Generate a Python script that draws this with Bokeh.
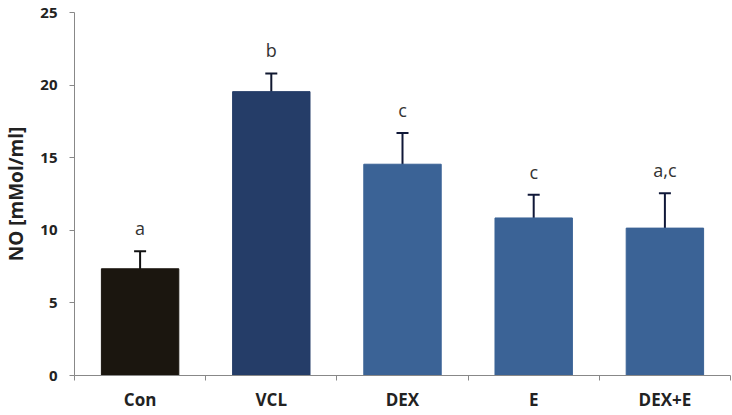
from bokeh.plotting import figure
from bokeh.models import ColumnDataSource, FixedTicker, Whisker, LabelSet, Range1d
from bokeh.core.properties import value
from bokeh.embed import file_html
from bokeh.resources import INLINE

categories = ["Con", "VCL", "DEX", "E", "DEX+E"]
values = [7.35, 19.55, 14.55, 10.85, 10.15]
errors = [1.2, 1.25, 2.15, 1.6, 2.4]
letters = ["a", "b", "c", "c", "a,c"]
colors = ["#1b160f", "#253d68", "#3b6396", "#3b6396", "#3b6396"]
err_colors = ["#111111", "#101830", "#101838", "#101838", "#101838"]
y_ticks = [0, 5, 10, 15, 20, 25]

xs = [i + 0.5 for i in range(len(categories))]
src = ColumnDataSource(dict(
    x=xs, top=values, color=colors, ecolor=err_colors,
    upper=[v + e for v, e in zip(values, errors)],
    lower=[v - e for v, e in zip(values, errors)],
    letter=letters,
))

p = figure(output_backend="svg", toolbar_location=None,
           frame_width=656, frame_height=363,
           x_range=Range1d(0, len(categories)), y_range=Range1d(0, 25),
           min_border_left=72, min_border_right=4, min_border_top=12, min_border_bottom=40,
           background_fill_color="white", border_fill_color="white")
p.outline_line_color = None
p.grid.grid_line_color = None

p.vbar(x="x", top="top", width=0.59, bottom=0, fill_color="color", line_color="color", source=src)

w = Whisker(base="x", upper="upper", lower="lower", source=src,
            line_color="ecolor", line_width=2)
w.upper_head.size = 12
w.lower_head.size = 12
w.upper_head.line_color = "ecolor"
w.lower_head.line_color = "ecolor"
w.upper_head.line_width = 2
w.lower_head.line_width = 2
p.add_layout(w)

lbl = LabelSet(x="x", y="upper", text="letter", source=src, y_offset=11,
               text_align="center", text_baseline="bottom",
               text_font=value("Open Sans"), text_font_size=value("18px"),
               text_color=value("#333333"))
p.add_layout(lbl)

# x axis
xa = p.xaxis[0]
xa.ticker = FixedTicker(ticks=xs, minor_ticks=list(range(len(categories) + 1)))
xa.major_label_overrides = {x: c for x, c in zip(xs, categories)}
xa.major_tick_out = 0
xa.major_tick_in = 0
xa.minor_tick_out = 5
xa.minor_tick_in = 0
xa.minor_tick_line_color = "#888888"
xa.axis_line_color = "#888888"
xa.major_label_text_font = "Open Sans"
xa.major_label_text_font_style = "bold"
xa.major_label_text_font_size = "17px"
xa.major_label_text_color = "#222222"
xa.major_label_standoff = 7

ya = p.yaxis[0]
ya.ticker = FixedTicker(ticks=y_ticks, minor_ticks=[])
ya.major_tick_out = 5
ya.major_tick_in = 0
ya.major_tick_line_color = "#888888"
ya.axis_line_color = "#888888"
ya.major_label_text_font = "Open Sans"
ya.major_label_text_font_style = "bold"
ya.major_label_text_font_size = "15px"
ya.major_label_text_color = "#222222"
ya.major_label_standoff = 12
ya.axis_label = "NO [mMol/ml]"
ya.axis_label_text_font = "Open Sans"
ya.axis_label_text_font_style = "bold"
ya.axis_label_text_font_size = "19px"
ya.axis_label_text_color = "#222222"
ya.axis_label_standoff = 8

open("out.html", "w").write(file_html(p, INLINE))
